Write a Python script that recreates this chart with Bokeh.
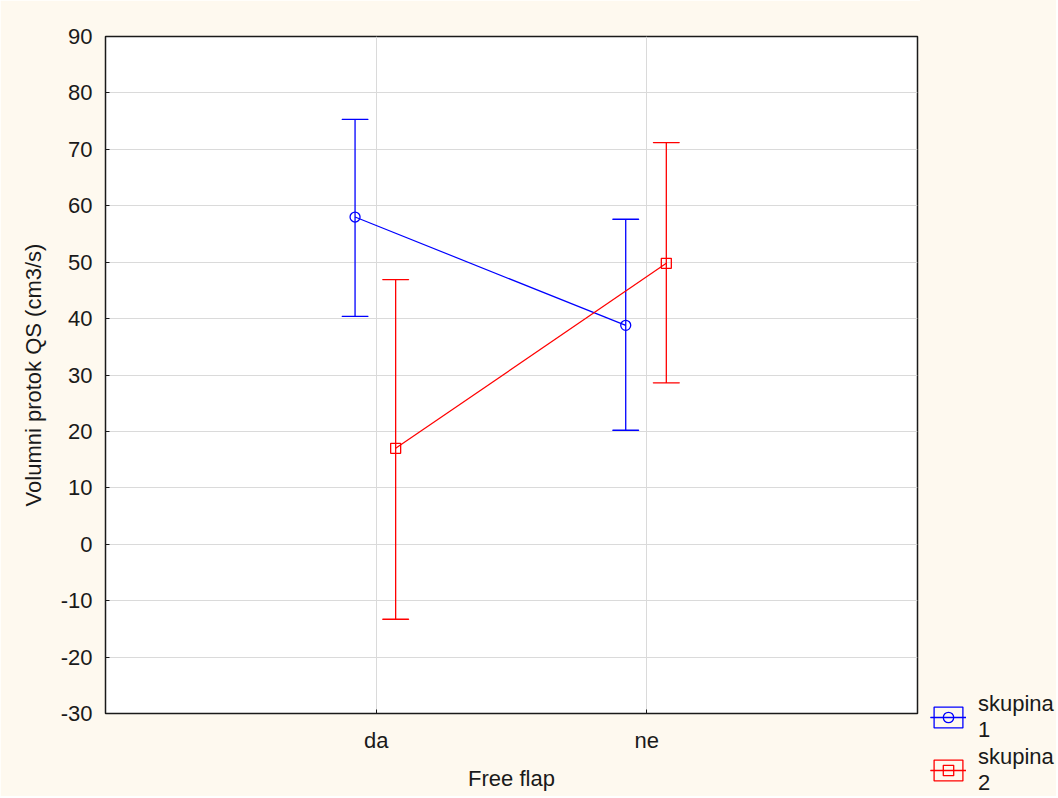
from bokeh.plotting import figure
from bokeh.models import (FactorRange, Range1d, ColumnDataSource, Legend, LegendItem,
                          FixedTicker, Spacer)
from bokeh.layouts import row, column
from bokeh.transform import dodge
from bokeh.embed import file_html
from bokeh.resources import INLINE

# ---- data ----
categories = ["da", "ne"]
series_names = ["skupina\n1", "skupina\n2"]
group1_mean = [58.0, 38.8]
group1_low = [40.4, 20.2]
group1_high = [75.3, 57.6]
group2_mean = [17.0, 49.8]
group2_low = [-13.3, 28.6]
group2_high = [46.9, 71.2]
y_ticks = [-30, -20, -10, 0, 10, 20, 30, 40, 50, 60, 70, 80, 90]
x_label = "Free flap"
y_label = "Volumni protok QS (cm3/s)"

FONT = "Liberation Sans"
FS = "22px"
TXT = "#1a1a1a"
BG = "#fef9ef"

x_rng = FactorRange(factors=categories, range_padding=0.5, range_padding_units="absolute")
y_rng = Range1d(-30, 90)

p = figure(width=920, height=796, x_range=x_rng, y_range=y_rng,
           output_backend="svg", toolbar_location=None,
           min_border_left=105, min_border_right=3,
           min_border_top=36, min_border_bottom=83)

p.border_fill_color = BG
p.background_fill_color = "white"
p.outline_line_color = "#1a1a1a"
p.outline_line_width = 1.5

for g in (p.xgrid, p.ygrid):
    g.grid_line_color = "#dadada"
    g.grid_line_width = 1

p.yaxis.ticker = FixedTicker(ticks=y_ticks)
p.yaxis.major_label_overrides = {t: str(t) for t in y_ticks}
for ax in (p.xaxis[0], p.yaxis[0]):
    ax.major_tick_in = 4
    ax.major_tick_out = 0
    ax.minor_tick_line_color = None
    ax.axis_line_color = "#1a1a1a"
    ax.major_tick_line_color = "#1a1a1a"
    ax.major_label_text_font = FONT
    ax.major_label_text_font_size = FS
    ax.major_label_text_color = TXT
    ax.axis_label_text_font = FONT
    ax.axis_label_text_font_size = FS
    ax.axis_label_text_font_style = "normal"
    ax.axis_label_text_color = TXT

p.xaxis.axis_label = x_label
p.xaxis.major_label_standoff = 14
p.xaxis.axis_label_standoff = 10
p.yaxis.axis_label = y_label
p.yaxis.major_label_standoff = 13
p.yaxis.axis_label_standoff = 12

# small companion figure that only carries the legend (right of / below the frame)
pl = figure(width=136, height=110, x_range=x_rng, y_range=y_rng,
            output_backend="svg", toolbar_location=None,
            x_axis_location=None, y_axis_location=None,
            min_border_left=0, min_border_right=0, min_border_top=0, min_border_bottom=0)
pl.grid.visible = False
pl.border_fill_color = BG
pl.background_fill_color = BG
pl.outline_line_color = None

groups = [
    (group1_mean, group1_low, group1_high, -0.078, "#0000ff", "circle"),
    (group2_mean, group2_low, group2_high, 0.072, "#ff0000", "square"),
]


def draw(fig, src, off, color, marker, visible=True):
    xx = dodge("cat", off, range=x_rng)
    seg = fig.segment(x0=xx, y0="low", x1=xx, y1="high", source=src,
                      line_color=color, line_width=1.3, visible=visible)
    cap_hi = fig.rect(x=xx, y="high", width=0.096, height=0.01, source=src,
                      fill_alpha=0, line_color=color, line_width=1.3, visible=visible)
    cap_lo = fig.rect(x=xx, y="low", width=0.096, height=0.01, source=src,
                      fill_alpha=0, line_color=color, line_width=1.3, visible=visible)
    ln = fig.line(x=xx, y="mean", source=src, line_color=color, line_width=1.2,
                  visible=visible)
    mk = fig.scatter(x=xx, y="mean", source=src, marker=marker, size=10,
                     fill_color=None, line_color=color, line_width=1.3, visible=visible)
    return [cap_hi, seg, ln, mk]


items = []
for (mean, low, high, off, color, marker), name in zip(groups, series_names):
    src = ColumnDataSource(dict(cat=categories, mean=mean, low=low, high=high))
    draw(p, src, off, color, marker)
    rs = draw(pl, src, off, color, marker, visible=False)
    items.append(LegendItem(label=name, renderers=rs))

legend = Legend(items=items, location=(10, 0), orientation="vertical",
                padding=0, margin=0, spacing=1, glyph_width=36, glyph_height=26,
                label_standoff=12, border_line_color=None, background_fill_alpha=0,
                inactive_fill_alpha=0,
                label_text_font=FONT, label_text_font_size=FS, label_text_color=TXT,
                label_text_line_height=1.1)
pl.add_layout(legend)

side = column(Spacer(width=136, height=686, styles={"background-color": BG}), pl,
              styles={"background-color": BG})
layout = row(p, side)
open("out.html", "w").write(file_html(layout, INLINE))
